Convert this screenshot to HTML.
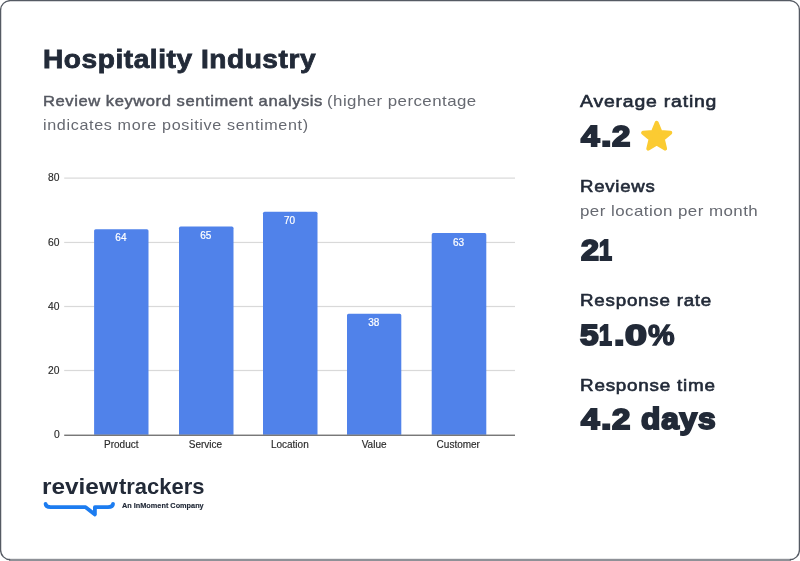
<!DOCTYPE html>
<html><head><meta charset="utf-8">
<style>
html,body{margin:0;padding:0;background:#fff;}
body{width:800px;height:561px;position:relative;overflow:hidden;font-family:"Liberation Sans",sans-serif;}
.t{position:absolute;white-space:nowrap;line-height:1;transform-origin:0 0;}
.navy{color:#222a38;}
.gray{color:#666971;}
.ax{position:absolute;font-size:10.3px;color:#2a2a2a;-webkit-text-stroke:0.15px #2a2a2a;line-height:1;white-space:nowrap;}
.bl{position:absolute;font-size:10px;color:#fff;line-height:1;white-space:nowrap;text-align:center;width:60px;-webkit-text-stroke:0.2px #fff;}
.xl{position:absolute;font-size:10px;color:#2a2a2a;-webkit-text-stroke:0.15px #2a2a2a;line-height:1;white-space:nowrap;text-align:center;width:80px;top:440px;}
</style></head><body>
<svg style="position:absolute;left:0;top:0" width="800" height="561" viewBox="0 0 800 561">
<rect x="9" y="558.8" width="782" height="2.4" fill="#8e9197"/>
<path d="M10.2 559.7 A9.6 9.6 0 0 1 0.6 550.1 L0.6 10.2 A9.6 9.6 0 0 1 10.2 0.6 L789.8 0.6 A9.6 9.6 0 0 1 799.4 10.2 L799.4 550.1 A9.6 9.6 0 0 1 789.8 559.7" fill="none" stroke="#555a63" stroke-width="1.3"/>
</svg>

<div id="title" class="t navy" style="left:43.2px;top:47.0px;font-size:25.8px;letter-spacing:0.5px;transform:scaleX(1.0888);font-weight:bold;-webkit-text-stroke:0.8px #222a38;">Hospitality Industry</div>
<div id="sub" class="t gray" style="left:0;top:92px;width:520px;height:46px;"><span style="position:absolute;left:42.80px;top:2.00px;transform-origin:0 0;transform:scaleX(1.1341);font-size:14.6px;letter-spacing:0.5px;color:#555861;-webkit-text-stroke:0.45px #555861">Review keyword sentiment analysis</span> <span style="position:absolute;left:326.70px;top:0.70px;transform-origin:0 0;transform:scaleX(1.1241);font-size:15.0px;letter-spacing:0.4px">(higher percentage</span> <span style="position:absolute;left:43.06px;top:25.00px;transform-origin:0 0;transform:scaleX(1.075);font-size:15.0px;letter-spacing:0.6px">indicates more positive sentiment)</span></div>

<!-- chart -->
<svg style="position:absolute;left:0;top:0" width="800" height="561" viewBox="0 0 800 561">
<rect x="64.2" y="177.5" width="450.8" height="1.2" fill="#d9d9d9"/>
<rect x="64.2" y="241.85" width="450.8" height="1.2" fill="#d9d9d9"/>
<rect x="64.2" y="305.9" width="450.8" height="1.2" fill="#d9d9d9"/>
<rect x="64.2" y="369.9" width="450.8" height="1.2" fill="#d9d9d9"/>
<path d="M94.1 434.7 L94.1 230.8 A1.6 1.6 0 0 1 95.7 229.2 L146.9 229.2 A1.6 1.6 0 0 1 148.5 230.8 L148.5 434.7 Z" fill="#5082ea"/>
<path d="M179.0 434.7 L179.0 228.2 A1.6 1.6 0 0 1 180.6 226.6 L231.9 226.6 A1.6 1.6 0 0 1 233.5 228.2 L233.5 434.7 Z" fill="#5082ea"/>
<path d="M263.0 434.7 L263.0 213.3 A1.6 1.6 0 0 1 264.6 211.7 L315.9 211.7 A1.6 1.6 0 0 1 317.5 213.3 L317.5 434.7 Z" fill="#5082ea"/>
<path d="M347.0 434.7 L347.0 315.3 A1.6 1.6 0 0 1 348.6 313.7 L399.7 313.7 A1.6 1.6 0 0 1 401.3 315.3 L401.3 434.7 Z" fill="#5082ea"/>
<path d="M431.7 434.7 L431.7 234.7 A1.6 1.6 0 0 1 433.3 233.1 L484.7 233.1 A1.6 1.6 0 0 1 486.3 234.7 L486.3 434.7 Z" fill="#5082ea"/>
<rect x="64.2" y="434.6" width="450.8" height="1.3" fill="#6a6a6a"/>
</svg>
<div class="ax" style="left:48px;top:173px">80</div>
<div class="ax" style="left:48px;top:238px">60</div>
<div class="ax" style="left:48px;top:302px">40</div>
<div class="ax" style="left:48px;top:366px">20</div>
<div class="ax" style="left:54px;top:430px">0</div>
<div class="bl" style="left:90.9px;top:233px">64</div>
<div class="bl" style="left:175.8px;top:231px">65</div>
<div class="bl" style="left:259.5px;top:216px">70</div>
<div class="bl" style="left:343.7px;top:318px">38</div>
<div class="bl" style="left:428.6px;top:238px">63</div>
<div class="xl" style="left:81.3px">Product</div>
<div class="xl" style="left:165.5px">Service</div>
<div class="xl" style="left:249.8px">Location</div>
<div class="xl" style="left:334.1px">Value</div>
<div class="xl" style="left:418.3px">Customer</div>

<!-- logo -->
<div id="logo" class="t navy" style="left:0;top:476px;width:220px;height:24px;"><span style="position:absolute;left:41.93px;top:0.00px;transform-origin:0 0;transform:scaleX(1.0984);font-size:22.2px;letter-spacing:0.0px;font-weight:bold">review</span><span style="position:absolute;left:119.20px;top:0.00px;transform-origin:0 0;transform:scaleX(0.9888);font-size:22.2px;letter-spacing:0.0px;font-weight:bold">trackers</span></div>
<svg style="position:absolute;left:0;top:0" width="800" height="561" viewBox="0 0 800 561">
<path d="M45.6 503.9 Q45.7 507.2 50.6 507.2 L85.6 507.2 L94.9 514.4 L94.9 507.2 L108 507.2 Q112.9 507.2 113 503.9" fill="none" stroke="#1c7cf0" stroke-width="3.8" stroke-linejoin="round" stroke-linecap="round"/>
</svg>
<div id="inm" class="t navy" style="left:122.1px;top:502.0px;font-size:7.9px;letter-spacing:0.0px;transform:scaleX(0.9269);font-weight:bold;-webkit-text-stroke:0.15px #222a38;">An InMoment Company</div>

<!-- right column -->
<div id="r1" class="t navy" style="left:579.7px;top:94.0px;font-size:16.9px;letter-spacing:0.7px;transform:scaleX(1.1498);-webkit-text-stroke:0.6px #222a38;">Average rating</div>
<div id="r2" class="t navy" style="left:580px;top:120.0px;font-size:30.4px;width:140px;height:32px;font-weight:bold;-webkit-text-stroke:2px #222a38;"><span style="position:absolute;left:0.92px;top:0;transform-origin:0 0;transform:scaleX(1.097)">4</span><span style="position:absolute;left:21.05px;top:0;transform-origin:0 0;transform:scaleX(1.246)">.</span><span style="position:absolute;left:32.40px;top:0;transform-origin:0 0;transform:scaleX(1.084)">2</span></div>
<svg style="position:absolute;left:635px;top:115px" width="44" height="42" viewBox="0 0 44 42">
<path d="M21.70 7.80 L25.46 16.92 L35.30 17.68 L27.79 24.08 L30.11 33.67 L21.70 28.50 L13.29 33.67 L15.61 24.08 L8.10 17.68 L17.94 16.92 Z" fill="#fbcb32" stroke="#fbcb32" stroke-width="4" stroke-linejoin="round"/>
</svg>
<div id="r3" class="t navy" style="left:579.56px;top:179.0px;font-size:16.9px;letter-spacing:0.7px;transform:scaleX(1.1002);-webkit-text-stroke:0.6px #222a38;">Reviews</div>
<div id="r4" class="t gray" style="left:579.65px;top:203.0px;font-size:15.0px;letter-spacing:0.4px;transform:scaleX(1.1274);">per location per month</div>
<div id="r5" class="t navy" style="left:580px;top:234.0px;font-size:30.4px;width:140px;height:32px;font-weight:bold;-webkit-text-stroke:2px #222a38;"><span style="position:absolute;left:0.64px;top:0;transform-origin:0 0;transform:scaleX(1.061)">2</span><span style="position:absolute;left:18.92px;top:0;transform-origin:0 0;transform:scaleX(0.767)">1</span></div>
<div id="r6" class="t navy" style="left:579.55px;top:293.0px;font-size:16.9px;letter-spacing:0.7px;transform:scaleX(1.1101);-webkit-text-stroke:0.6px #222a38;">Response rate</div>
<div id="r7" class="t navy" style="left:580px;top:319.0px;font-size:30.4px;width:140px;height:32px;font-weight:bold;-webkit-text-stroke:2px #222a38;"><span style="position:absolute;left:0.36px;top:0;transform-origin:0 0;transform:scaleX(1.099)">5</span><span style="position:absolute;left:19.44px;top:0;transform-origin:0 0;transform:scaleX(0.760)">1</span><span style="position:absolute;left:34.06px;top:0;transform-origin:0 0;transform:scaleX(1.253)">.</span><span style="position:absolute;left:45.20px;top:0;transform-origin:0 0;transform:scaleX(1.295)">0</span><span style="position:absolute;left:68.3px;top:0;transform-origin:0 0;transform:scaleX(0.985);-webkit-text-stroke:1.3px #222a38">%</span></div>
<div id="r8" class="t navy" style="left:579.52px;top:378.0px;font-size:16.9px;letter-spacing:0.7px;transform:scaleX(1.1149);-webkit-text-stroke:0.6px #222a38;">Response time</div>
<div id="r9" class="t navy" style="left:580px;top:403.0px;font-size:30.4px;width:140px;height:32px;font-weight:bold;-webkit-text-stroke:2px #222a38;"><span style="position:absolute;left:0.68px;top:0;transform-origin:0 0;transform:scaleX(1.097)">4</span><span style="position:absolute;left:20.55px;top:0;transform-origin:0 0;transform:scaleX(1.246)">.</span><span style="position:absolute;left:32.15px;top:0;transform-origin:0 0;transform:scaleX(1.083)">2</span> <span style="position:absolute;left:61.33px;top:0.00px;transform-origin:0 0;transform:scaleX(1.0418);letter-spacing:0.8px">days</span></div>
</body></html>
